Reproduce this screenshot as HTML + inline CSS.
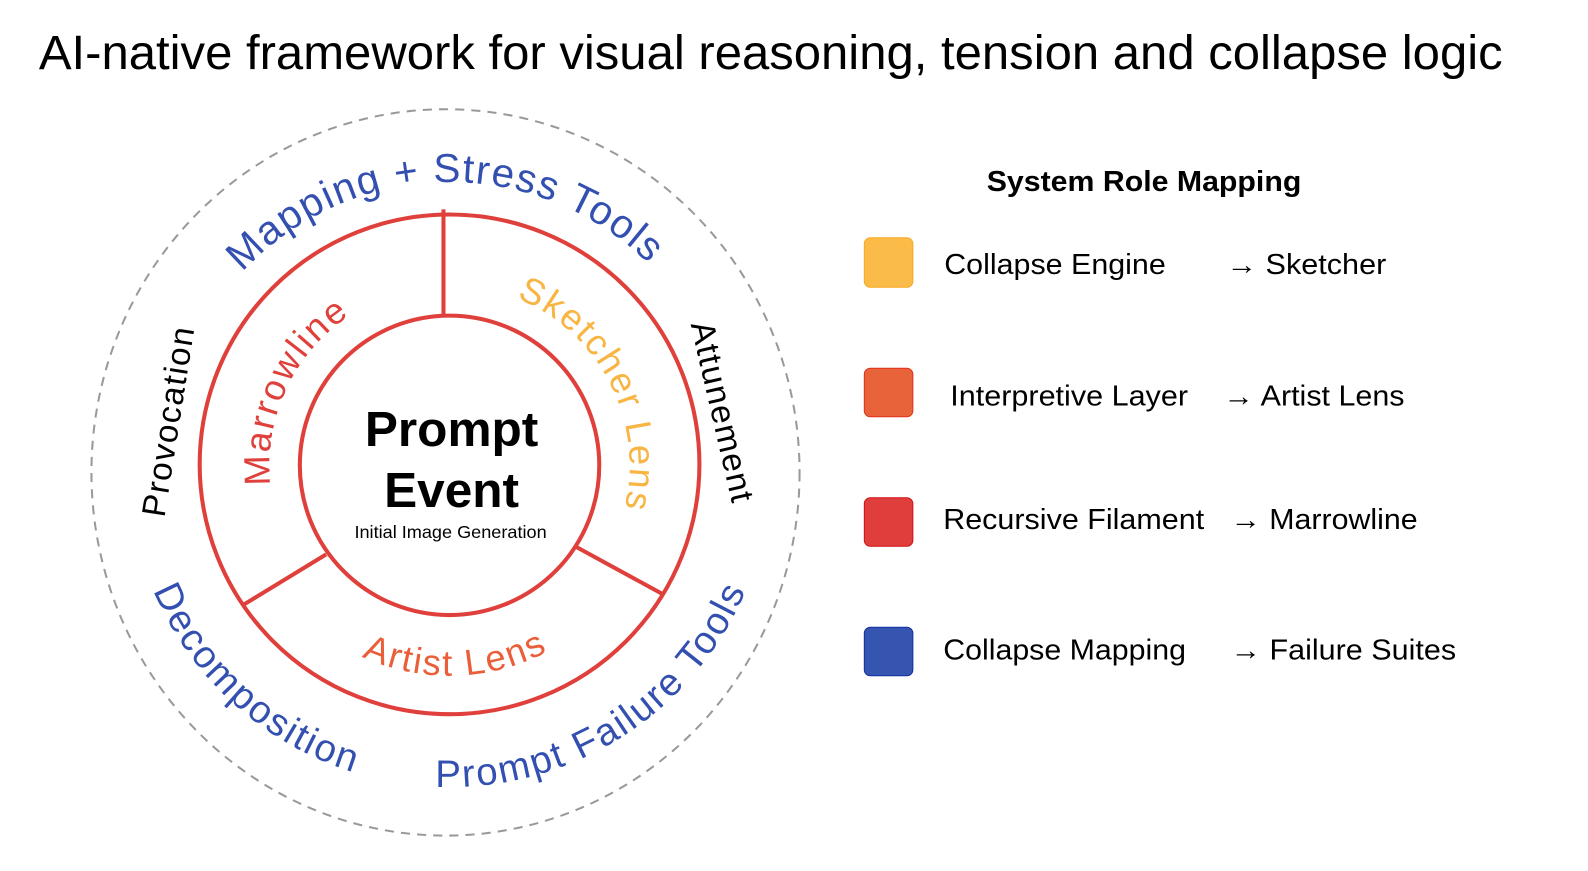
<!DOCTYPE html>
<html><head><meta charset="utf-8"><style>
html,body{margin:0;padding:0;background:#fff;width:1588px;height:871px;overflow:hidden}
svg{display:block}
text{font-family:"Liberation Sans",Arial,sans-serif}
</style></head><body>
<svg width="1588" height="871" viewBox="0 0 1569 861" xmlns="http://www.w3.org/2000/svg">
<defs>
<path id="cw280" d="M444,740 A280,280 0 1 1 444,180 A280,280 0 1 1 444,740"/>
<path id="cw178" d="M444,638 A178,178 0 1 1 444,282 A178,178 0 1 1 444,638"/>
<path id="ccw318" d="M444,142 A318,318 0 1 0 444,778 A318,318 0 1 0 444,142"/>
<path id="ccw208" d="M444,252 A208,208 0 1 0 444,668 A208,208 0 1 0 444,252"/>
</defs>
<rect width="1569" height="861" fill="#fff"/>
<text x="38" y="68" font-size="48" textLength="1447" lengthAdjust="spacingAndGlyphs" fill="#000">AI-native framework for visual reasoning, tension and collapse logic</text>

<ellipse cx="440" cy="467" rx="350" ry="359" fill="none" stroke="#999" stroke-width="2" stroke-dasharray="9,7"/>
<circle cx="444" cy="459" r="247" fill="none" stroke="#e0403b" stroke-width="4"/>
<circle cx="444" cy="460" r="148" fill="#fff" stroke="#e0403b" stroke-width="4"/>
<line x1="438" y1="207" x2="438" y2="311" stroke="#e0403b" stroke-width="4"/>
<line x1="240" y1="598" x2="322" y2="548" stroke="#e0403b" stroke-width="4"/>
<line x1="568" y1="540" x2="656" y2="588" stroke="#e0403b" stroke-width="4"/>

<text font-size="40" fill="#3350b0" text-anchor="middle" letter-spacing="1.5"><textPath href="#cw280" startOffset="49.7%">Mapping + Stress Tools</textPath></text>
<text font-size="36" fill="#e0403b" text-anchor="middle" letter-spacing="2"><textPath href="#cw178" startOffset="32%">Marrowline</textPath></text>
<text font-size="36" fill="#f8b543" text-anchor="middle" letter-spacing="2"><textPath href="#cw178" startOffset="67.5%">Sketcher Lens</textPath></text>
<text font-size="38" fill="#3350b0" text-anchor="middle" letter-spacing="2"><textPath href="#ccw318" startOffset="38.3%">Decomposition</textPath></text>
<text font-size="38" fill="#3350b0" text-anchor="middle" letter-spacing="2"><textPath href="#ccw318" startOffset="59%">Prompt Failure Tools</textPath></text>
<text font-size="36" fill="#ea5f3a" text-anchor="middle" letter-spacing="2"><textPath href="#ccw208" startOffset="50.5%">Artist Lens</textPath></text>

<text transform="translate(177,418) rotate(-81)" font-size="33" fill="#000" text-anchor="middle" letter-spacing="1.5">Provocation</text>
<text transform="translate(703,410) rotate(77)" font-size="33" fill="#000" text-anchor="middle" letter-spacing="1.5">Attunement</text>

<text x="446" y="441" font-size="49" font-weight="bold" text-anchor="middle" fill="#000">Prompt</text>
<text x="446" y="501" font-size="49" font-weight="bold" text-anchor="middle" fill="#000">Event</text>
<text x="445" y="532" font-size="17" text-anchor="middle" fill="#000" textLength="190" lengthAdjust="spacingAndGlyphs">Initial Image Generation</text>

<text x="975" y="189" font-size="28" font-weight="bold" textLength="311" lengthAdjust="spacingAndGlyphs" fill="#000">System Role Mapping</text>

<rect x="854" y="235" width="48" height="49" rx="6" fill="#fbbb48" stroke="#f8a820" stroke-width="1"/>
<rect x="854" y="364" width="48" height="48" rx="6" fill="#e8623a" stroke="#e0301a" stroke-width="1"/>
<rect x="854" y="492" width="48" height="48" rx="6" fill="#e03e3c" stroke="#d01010" stroke-width="1"/>
<rect x="854" y="620" width="48" height="48" rx="6" fill="#3655b0" stroke="#1030a0" stroke-width="1"/>

<g font-size="28" fill="#000">
<text x="933" y="271" textLength="219" lengthAdjust="spacingAndGlyphs">Collapse Engine</text>
<text x="1212" y="271" textLength="158" lengthAdjust="spacingAndGlyphs">→ Sketcher</text>
<text x="939" y="401" textLength="235" lengthAdjust="spacingAndGlyphs">Interpretive Layer</text>
<text x="1209" y="401" textLength="179" lengthAdjust="spacingAndGlyphs">→ Artist Lens</text>
<text x="932" y="523" textLength="258" lengthAdjust="spacingAndGlyphs">Recursive Filament</text>
<text x="1216" y="523" textLength="185" lengthAdjust="spacingAndGlyphs">→ Marrowline</text>
<text x="932" y="652" textLength="240" lengthAdjust="spacingAndGlyphs">Collapse Mapping</text>
<text x="1216" y="652" textLength="223" lengthAdjust="spacingAndGlyphs">→ Failure Suites</text>
</g>
</svg>
</body></html>
